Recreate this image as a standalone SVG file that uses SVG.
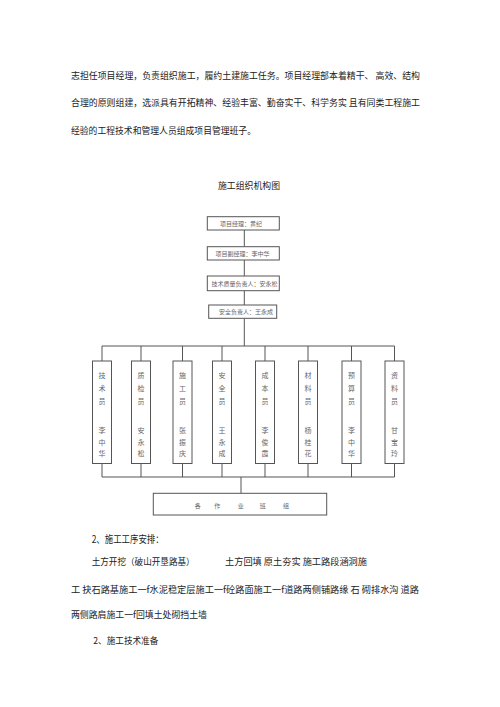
<svg xmlns="http://www.w3.org/2000/svg" width="500" height="707" viewBox="0 0 500 707">
<style>
.body{font-family:"Noto Sans CJK SC","Liberation Sans",sans-serif;font-size:9px;fill:#222}
.h{font-family:"Noto Sans CJK SC","Liberation Sans",sans-serif;font-size:10px;fill:#222}
.box{fill:#fff;stroke:#555;stroke-width:1}
.lbl{font-family:"Noto Sans CJK SC",sans-serif;font-size:6px;fill:#666;text-anchor:middle}
.v{font-family:"Noto Sans CJK SC",sans-serif;font-size:7px;fill:#666;text-anchor:middle}
.conn{stroke:#555;stroke-width:1;fill:none}
</style>
<rect width="500" height="707" fill="#fff"/>
<g id="intro">
<text class="body" x="71" y="78.5" textLength="349" lengthAdjust="spacingAndGlyphs">志担任项目经理，负责组织施工，履约土建施工任务。项目经理部本着精干、 高效、结构</text>
<text class="body" x="71" y="106" textLength="349" lengthAdjust="spacingAndGlyphs">合理的原则组建，选派具有开拓精神、经验丰富、勤奋实干、科学务实 且有同类工程施工</text>
<text class="body" x="71" y="133.5" textLength="185" lengthAdjust="spacingAndGlyphs">经验的工程技术和管理人员组成项目管理班子。</text>
</g>
<text class="body" x="218" y="188.5" textLength="62" lengthAdjust="spacingAndGlyphs">施工组织机构图</text>
<g id="connectors">
<path class="conn" d="M244.3 230V246.7M244.3 260V276M244.3 290.7V305M244.3 318.3V346"/>
<path class="conn" d="M102 346H394.5M102 346V361M141 346V361M182.5 346V361M222 346V361M265 346V361M308 346V361M351.5 346V361M394.5 346V361"/>
<path class="conn" d="M102 463.5V477M141 463.5V477M182.5 463.5V477M222 463.5V477M265 463.5V477M308 463.5V477M351.5 463.5V477M394.5 463.5V477M102 477H394.5M241 477V493.3"/>
</g>
<g id="n-pm"><rect class="box" x="207.3" y="216.7" width="72" height="13.3"/><text class="lbl" x="241" y="225.5">项目经理：黄纪</text></g>
<g id="n-dpm"><rect class="box" x="207.3" y="246.7" width="72" height="13.3"/><text class="lbl" x="242.5" y="255.5">项目副经理：李中华</text></g>
<g id="n-tech"><rect class="box" x="207.3" y="276" width="72" height="14.7"/><text class="lbl" x="244.5" y="285.5">技术质量负责人：安永松</text></g>
<g id="n-safe"><rect class="box" x="208.7" y="305" width="68" height="13.3"/><text class="lbl" x="246" y="313.8">安全负责人：王永成</text></g>
<g id="c1"><rect class="box" x="92.5" y="361" width="19" height="102.5"/><text class="v" x="102" y="377.5">技</text><text class="v" x="102" y="390.5">术</text><text class="v" x="102" y="403.5">员</text><text class="v" x="102" y="433">李</text><text class="v" x="102" y="444.5">中</text><text class="v" x="102" y="456">华</text></g>
<g id="c2"><rect class="box" x="131.5" y="361" width="19" height="102.5"/><text class="v" x="141" y="377.5">质</text><text class="v" x="141" y="390.5">检</text><text class="v" x="141" y="403.5">员</text><text class="v" x="141" y="433">安</text><text class="v" x="141" y="444.5">永</text><text class="v" x="141" y="456">松</text></g>
<g id="c3"><rect class="box" x="173" y="361" width="19" height="102.5"/><text class="v" x="182.5" y="377.5">施</text><text class="v" x="182.5" y="390.5">工</text><text class="v" x="182.5" y="403.5">员</text><text class="v" x="182.5" y="433">张</text><text class="v" x="182.5" y="444.5">振</text><text class="v" x="182.5" y="456">庆</text></g>
<g id="c4"><rect class="box" x="212.5" y="361" width="19" height="102.5"/><text class="v" x="222" y="377.5">安</text><text class="v" x="222" y="390.5">全</text><text class="v" x="222" y="403.5">员</text><text class="v" x="222" y="433">王</text><text class="v" x="222" y="444.5">永</text><text class="v" x="222" y="456">成</text></g>
<g id="c5"><rect class="box" x="255.5" y="361" width="19" height="102.5"/><text class="v" x="265" y="377.5">成</text><text class="v" x="265" y="390.5">本</text><text class="v" x="265" y="403.5">员</text><text class="v" x="265" y="433">李</text><text class="v" x="265" y="444.5">俊</text><text class="v" x="265" y="456">霞</text></g>
<g id="c6"><rect class="box" x="298.5" y="361" width="19" height="102.5"/><text class="v" x="308" y="377.5">材</text><text class="v" x="308" y="390.5">料</text><text class="v" x="308" y="403.5">员</text><text class="v" x="308" y="433">杨</text><text class="v" x="308" y="444.5">桂</text><text class="v" x="308" y="456">花</text></g>
<g id="c7"><rect class="box" x="342" y="361" width="19" height="102.5"/><text class="v" x="351.5" y="377.5">预</text><text class="v" x="351.5" y="390.5">算</text><text class="v" x="351.5" y="403.5">员</text><text class="v" x="351.5" y="433">李</text><text class="v" x="351.5" y="444.5">中</text><text class="v" x="351.5" y="456">华</text></g>
<g id="c8"><rect class="box" x="385" y="361" width="19" height="102.5"/><text class="v" x="394.5" y="377.5">资</text><text class="v" x="394.5" y="390.5">料</text><text class="v" x="394.5" y="403.5">员</text><text class="v" x="394.5" y="433">甘</text><text class="v" x="394.5" y="444.5">宝</text><text class="v" x="394.5" y="456">玲</text></g>
<g id="n-teams"><rect class="box" x="153.3" y="493.3" width="173.4" height="21.7"/><text class="lbl" x="197.7" y="508">各</text><text class="lbl" x="217.3" y="508">作</text><text class="lbl" x="240.7" y="508">业</text><text class="lbl" x="262.7" y="508">班</text><text class="lbl" x="286" y="508">组</text></g>
<g id="outro">
<text class="h" x="91.7" y="543" textLength="72" lengthAdjust="spacingAndGlyphs">2、施工工序安排：</text>
<text class="body" x="91.7" y="565" textLength="103" lengthAdjust="spacingAndGlyphs">土方开挖（破山开垦路基）</text>
<text class="body" x="225" y="565" textLength="142" lengthAdjust="spacingAndGlyphs">土方回填 原土夯实 施工路段涵洞施</text>
<text class="body" x="71" y="592.5" textLength="348" lengthAdjust="spacingAndGlyphs">工 抉石路基施工一f水泥稳定层施工一f砼路面施工一f道路两侧铺路缘 石 砌排水沟 道路</text>
<text class="body" x="71" y="617.5" textLength="136" lengthAdjust="spacingAndGlyphs">两侧路肩施工一f回填土处砌挡土墙</text>
<text class="body" x="93.3" y="644" textLength="65" lengthAdjust="spacingAndGlyphs">2、施工技术准备</text>
</g>
</svg>
